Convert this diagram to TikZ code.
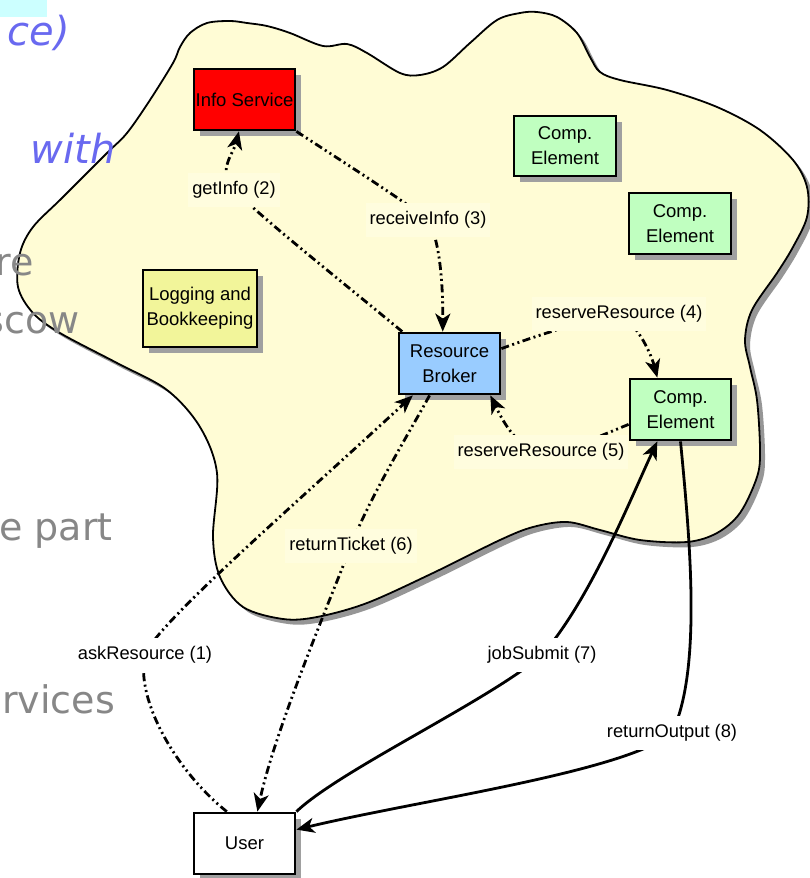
\documentclass[tikz,border=0pt]{standalone}
\usepackage{fontspec}
\setmainfont{Liberation Sans}
\newfontfamily\slidefont{DejaVu Sans}
\usetikzlibrary{arrows.meta,shadows,calc}
\definecolor{cloudfill}{RGB}{255,252,213}
\definecolor{labbg}{RGB}{255,253,222}
\definecolor{cloudshadow}{RGB}{150,150,150}
\definecolor{boxshadow}{RGB}{160,160,160}
\definecolor{infored}{RGB}{255,0,0}
\definecolor{cegreen}{RGB}{192,255,192}
\definecolor{logyellow}{RGB}{242,245,154}
\definecolor{rbblue}{RGB}{153,204,255}
\definecolor{slideblue}{RGB}{105,105,240}
\definecolor{slidegray}{RGB}{135,135,135}
\definecolor{hlcyan}{RGB}{204,255,255}
\tikzset{
 comp/.style={draw=black, line width=2.8pt, align=center, inner sep=0pt,
   font=\fontsize{18.5}{25}\selectfont,
   drop shadow={shadow xshift=6pt, shadow yshift=-6pt, opacity=1, fill=boxshadow}},
 lab/.style={font=\fontsize{18.3}{20}\selectfont, inner xsep=4pt, inner ysep=8pt, fill=labbg},
 labout/.style={lab, fill=white},
 flow/.style={line width=2.8pt, dash pattern=on 8pt off 3.5pt on 2pt off 3.5pt on 2pt off 3.5pt},
 solidflow/.style={line width=2.8pt},
 tip/.style={-{Stealth[length=18pt,width=15pt,inset=5pt]}},
 slidetext/.style={font=\slidefont\fontsize{38}{40}\selectfont, text=slidegray, inner sep=0pt, anchor=base east},
 slideital/.style={font=\slidefont\itshape\fontsize{40}{40}\selectfont, text=slideblue, inner sep=0pt, anchor=base east},
}
\begin{document}
\begin{tikzpicture}[x=1pt,y=-1pt]
\useasboundingbox (0,0) rectangle (810,878);
\fill[white] (0,0) rectangle (810,878);
% cloud shadow
\begin{scope}[shift={(5,5)}]
\fill[cloudshadow] plot[smooth cycle, tension=0.55] coordinates {
(180,47) (190,33) (207,23) (230,21) (247,23) (267,26) (290,33) (323,46) (347,44) (367,53)
(400,73) (420,75) (443,67) (470,43) (497,20) (520,13) (537,12) (557,17) (577,33) (590,57)
(600,72) (620,80) (667,90) (717,107) (760,130) (793,160) (807,187) (807,217) (793,247) (777,273)
(752,310) (745,340) (750,367) (757,400) (760,450) (757,477) (740,513) (717,533) (687,542) (640,540)
(600,530) (567,522) (533,527) (500,540) (433,573) (367,603) (317,617) (283,619) (243,607) (220,577)
(213,537) (217,473) (200,427) (167,390) (117,363) (60,333) (33,313) (18,287) (20,253) (33,227)
(62,198) (107,153) (127,133) (150,100) (173,63)};
\end{scope}
\filldraw[fill=cloudfill, draw=black, line width=1.8pt] plot[smooth cycle, tension=0.55] coordinates {
(180,47) (190,33) (207,23) (230,21) (247,23) (267,26) (290,33) (323,46) (347,44) (367,53)
(400,73) (420,75) (443,67) (470,43) (497,20) (520,13) (537,12) (557,17) (577,33) (590,57)
(600,72) (620,80) (667,90) (717,107) (760,130) (793,160) (807,187) (807,217) (793,247) (777,273)
(752,310) (745,340) (750,367) (757,400) (760,450) (757,477) (740,513) (717,533) (687,542) (640,540)
(600,530) (567,522) (533,527) (500,540) (433,573) (367,603) (317,617) (283,619) (243,607) (220,577)
(213,537) (217,473) (200,427) (167,390) (117,363) (60,333) (33,313) (18,287) (20,253) (33,227)
(62,198) (107,153) (127,133) (150,100) (173,63)};
% slide background text
\fill[hlcyan] (0,0) rectangle (47,17);
\node[slideital] (s1) at (70,45) {ce)};
\node[slideital] (s2) at (116,163) {with};
\node[slidetext] (s3) at (34,275) {re};
\node[slidetext] (s4) at (80,333) {scow};
\node[slidetext] (s5) at (113,540) {e part};
\node[slidetext] (s6) at (115,713) {rvices};
% boxes
\node[comp, fill=infored, minimum width=101pt, minimum height=61pt] (info) at (244.5,99.5) {Info Service};
\node[comp, fill=cegreen, minimum width=102pt, minimum height=60pt] (ce1) at (565,146) {Comp.\\Element};
\node[comp, fill=cegreen, minimum width=102pt, minimum height=61pt] (ce2) at (680,223.5) {Comp.\\Element};
\node[comp, fill=logyellow, minimum width=114pt, minimum height=77pt] (log) at (200,308.5) {Logging and\\Bookkeeping};
\node[comp, fill=rbblue, minimum width=101pt, minimum height=61pt] (rb) at (449.5,363.5) {Resource\\Broker};
\node[comp, fill=cegreen, minimum width=101pt, minimum height=61pt] (ce3) at (680.5,409.5) {Comp.\\Element};
\node[comp, fill=white, minimum width=101pt, minimum height=61pt] (user) at (244.5,843.5) {User};
% label positions
\coordinate (a1) at (145,655);
\coordinate (g2) at (234,190);
\coordinate (r3) at (428,220);
\coordinate (r4) at (619,314);
\coordinate (r5) at (541,452);
\coordinate (t6) at (351,546);
\coordinate (j7) at (542,655);
\coordinate (o8) at (672,733);
% connectors
\draw[flow, tip] (user.119) .. controls (177,772) and (135,700) .. (a1) .. controls (155,625) and (300,500) .. (rb.221);
\draw[flow, tip] (rb.146) .. controls (340,280) and (270,225) .. (g2) .. controls (216,172) and (234,152) .. (info.260);
\draw[flow, tip] (info.south east) .. controls (340,160) and (400,198) .. (r3) .. controls (440,240) and (443,285) .. (rb.102);
\draw[flow, tip] (rb.16) .. controls (530,338) and (590,318) .. (r4) .. controls (635,322) and (650,350) .. (ce3.126);
\draw[flow, tip] (ce3.196) .. controls (600,436) and (570,450) .. (r5) .. controls (515,448) and (500,415) .. (rb.322);
\draw[flow, tip] (rb.238) .. controls (412,428) and (368,500) .. (t6) .. controls (330,600) and (275,730) .. (user.68);
\draw[solidflow, tip] (user.north east) .. controls (340,770) and (490,700) .. (j7) .. controls (590,600) and (630,500) .. (ce3.234);
\draw[solidflow, tip] (ce3.south) .. controls (690,540) and (702,670) .. (o8) .. controls (625,772) and (420,800) .. (user.15);
% labels
\node[labout] (la1) at (a1) {askResource (1)};
\node[lab] (lg2) at (g2) {getInfo (2)};
\node[lab] (lr3) at (r3) {receiveInfo (3)};
\node[lab] (lr4) at (r4) {reserveResource (4)};
\node[lab] (lr5) at (r5) {reserveResource (5)};
\node[lab] (lt6) at (t6) {returnTicket (6)};
\node[labout] (lj7) at (j7) {jobSubmit (7)};
\node[labout] (lo8) at (o8) {returnOutput (8)};
\end{tikzpicture}
\end{document}
